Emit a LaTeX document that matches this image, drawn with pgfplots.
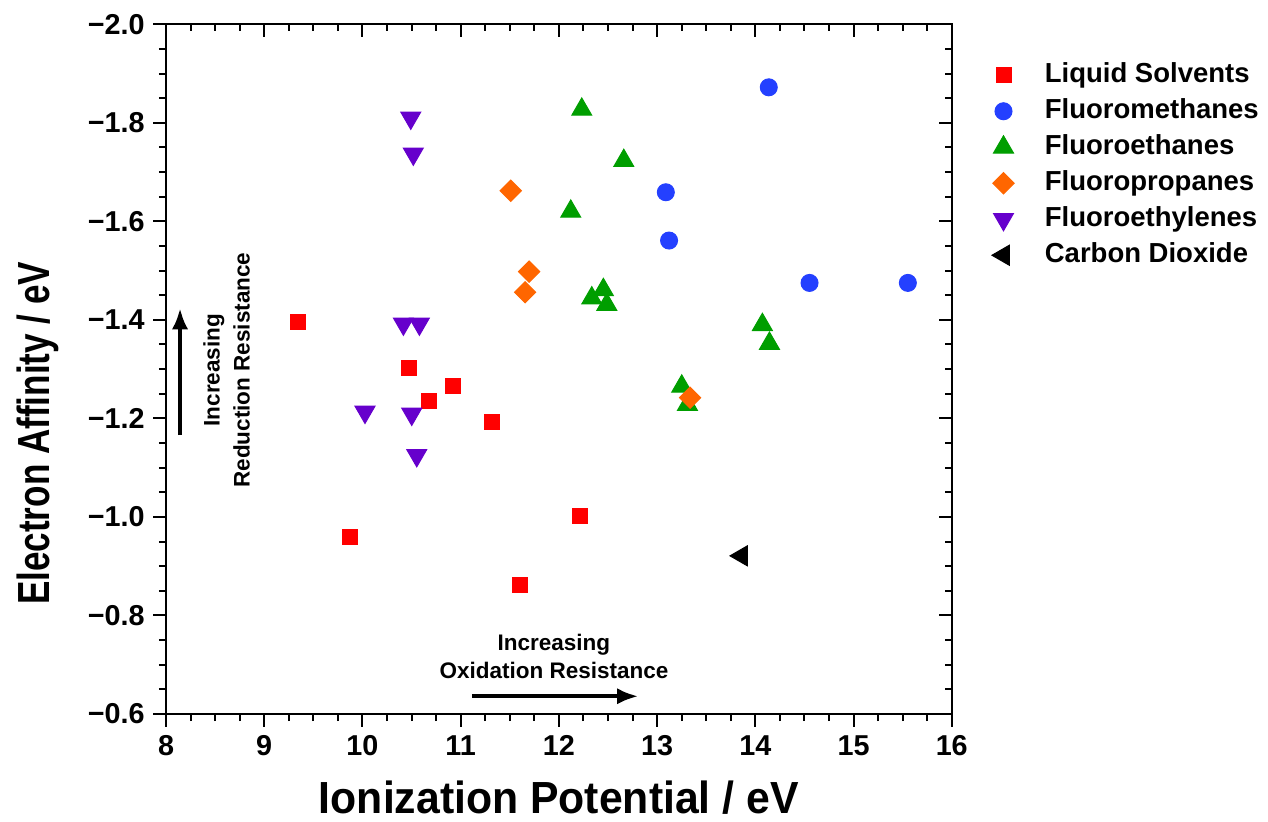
\documentclass[border=0pt]{standalone}
\usepackage{fontspec}
\setmainfont{Liberation Sans}
\usepackage{graphicx}
\usepackage{pgfplots}
\pgfplotsset{compat=1.18}
\usetikzlibrary{arrows.meta}

\definecolor{cred}{RGB}{255,0,0}
\definecolor{cblue}{RGB}{36,64,255}
\definecolor{cgreen}{RGB}{0,158,0}
\definecolor{corange}{RGB}{255,102,0}
\definecolor{cpurple}{RGB}{102,0,204}

\pgfplotsset{
  framestyle/.style={
    scale only axis,
    width=314.3pt, height=275.9pt,
    xmin=8, xmax=16, ymin=-2.0, ymax=-0.6,
    y dir=reverse,
    axis line style={line width=0.9pt},
    xtick={8,9,10,11,12,13,14,15,16},
    ytick={-2.0,-1.8,-1.6,-1.4,-1.2,-1.0,-0.8,-0.6},
    minor x tick num=3, minor y tick num=3,
    major tick length=5pt, minor tick length=2.8pt,
    tick style={line width=0.8pt, black},
  }
}

\begin{document}
\begin{tikzpicture}
\begin{axis}[
  framestyle,
  name=main,
  xtick pos=left, ytick pos=left,
  tick align=outside,
  xticklabels={8,9,10,11,12,13,14,15,16},
  yticklabels={−2.0,−1.8,−1.6,−1.4,−1.2,−1.0,−0.8,−0.6},
  tick label style={font=\fontsize{11.5}{13}\selectfont\bfseries},
  xlabel={\scalebox{0.95}[1]{Ionization Potential / eV}},
  xlabel style={font=\fontsize{18}{20}\selectfont\bfseries, at={(axis description cs:0.5,0)}, anchor=base, yshift=-39.6pt},
  ylabel={\scalebox{0.78}[1]{Electron Affinity / eV}},
  ylabel style={font=\fontsize{18}{20}\selectfont\bfseries, at={(axis description cs:0,0.407)}, anchor=base, yshift=46.4pt},
  legend style={at={(1,1)}, anchor=north west, xshift=12.9pt, yshift=-11.5pt,
    draw=none, fill=none, font=\fontsize{11}{13}\selectfont\bfseries,
    nodes={inner sep=1.5pt, text height=8pt, text depth=2.4pt}, row sep=1pt, column sep=10.8pt},
  legend cell align=left,
]
\addplot[only marks, mark=square*, mark size=3pt, color=cred] coordinates {
  (9.34,-1.396) (9.87,-0.960) (10.47,-1.302) (10.675,-1.236) (10.92,-1.266)
  (11.317,-1.193) (11.605,-0.862) (12.21,-1.002)};
\addlegendentry{Liquid Solvents}
\addplot[only marks, mark=*, mark size=3.4pt, color=cblue] coordinates {
  (14.137,-1.872) (13.089,-1.659) (13.122,-1.561) (14.552,-1.475) (15.553,-1.475)};
\addlegendentry{Fluoromethanes}
\addplot[only marks, mark=triangle*, mark size=4.6pt, color=cgreen] coordinates {
  (12.233,-1.827) (12.661,-1.723) (12.121,-1.620) (12.335,-1.444) (12.453,-1.461)
  (12.488,-1.431) (14.072,-1.390) (14.144,-1.352) (13.251,-1.265) (13.309,-1.228)};
\addlegendentry{Fluoroethanes}
\addplot[only marks, mark=square*, mark size=3pt, mark options={rotate=45}, color=corange] coordinates {
  (11.510,-1.662) (11.697,-1.498) (11.656,-1.456) (13.336,-1.242)};
\addlegendentry{Fluoropropanes}
\addplot[only marks, mark=triangle*, mark size=4.6pt, mark options={rotate=180}, color=cpurple] coordinates {
  (10.492,-1.810) (10.518,-1.737) (10.417,-1.392) (10.580,-1.392) (10.026,-1.213)
  (10.502,-1.209) (10.553,-1.125)};
\addlegendentry{Fluoroethylenes}
\addplot[only marks, mark=triangle*, mark size=4.6pt, mark options={rotate=90}, color=black] coordinates {
  (13.86,-0.921)};
\addlegendentry{Carbon Dioxide}

\draw[line width=1.7pt, -{Latex[length=8.5pt,width=6.5pt]}] (axis cs:8.143,-1.166) -- (axis cs:8.143,-1.424);
\draw[line width=1.7pt, -{Latex[length=8.5pt,width=6.5pt]}] (axis cs:11.113,-0.636) -- (axis cs:12.81,-0.636);
\node[font=\fontsize{9}{11.2}\selectfont\bfseries, align=center, inner sep=0pt] at (axis cs:11.95,-0.7176) {Increasing\\Oxidation Resistance};
\node[rotate=90, font=\fontsize{9}{12}\selectfont\bfseries, align=center, inner sep=0pt] at (axis cs:8.618,-1.298) {Increasing\\Reduction Resistance};
\end{axis}
\begin{axis}[
  framestyle,
  xtick pos=right, ytick pos=right,
  tick align=inside,
  xticklabels={}, yticklabels={},
]
\end{axis}
\pgfresetboundingbox
\path ([shift={(-66.4pt,-42.8pt)}]main.south west) rectangle ([shift={(126.5pt,9.7pt)}]main.north east);
\end{tikzpicture}
\end{document}
